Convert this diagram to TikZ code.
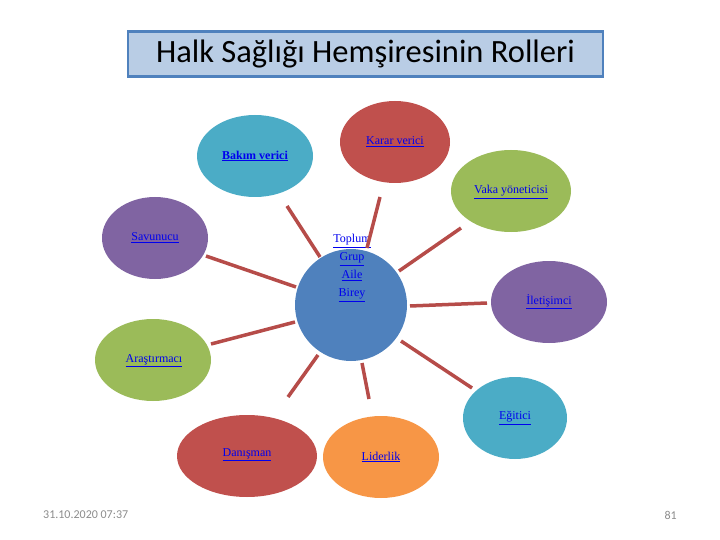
\documentclass[tikz,border=0pt]{standalone}
\usepackage{fontspec}
\setmainfont{Liberation Serif}
\newfontfamily\titlefont{Carlito}
\usetikzlibrary{shapes.geometric}
\definecolor{ttlfill}{HTML}{B9CDE5}
\definecolor{ttlline}{HTML}{4F81BD}
\definecolor{cblue}{HTML}{4BACC6}
\definecolor{cred}{HTML}{C0504D}
\definecolor{cgreen}{HTML}{9BBB59}
\definecolor{cpurple}{HTML}{8064A2}
\definecolor{ccenter}{HTML}{4F81BD}
\definecolor{corange}{HTML}{F79646}
\definecolor{linkblue}{HTML}{0000EE}
\definecolor{footgray}{HTML}{8C8C8C}
\newcommand{\lnk}[1]{\underline{#1}}
\begin{document}
\begin{tikzpicture}[x=1pt,y=-1pt,
  ell/.style={ellipse, draw=none, inner sep=0pt},
  lbl/.style={text=linkblue, font=\fontsize{12}{18}\selectfont, inner sep=0pt, align=center},
  conn/.style={draw=cred!95!black, line width=3.5pt}]
\useasboundingbox (0,0) rectangle (720,540);
% title
\node[draw=ttlline, line width=2.5pt, fill=ttlfill, minimum width=475, minimum height=45, inner sep=0pt,
  font=\titlefont\fontsize{32.5}{36}\selectfont] (title) at (365.5,54) {Halk Sağlığı Hemşiresinin Rolleri};
% ellipses
\node[ell, fill=cblue, minimum width=116, minimum height=82] (bakim) at (255,156) {};
\node[ell, fill=cred, minimum width=110, minimum height=82] (karar) at (395,142) {};
\node[ell, fill=cgreen, minimum width=120, minimum height=82] (vaka) at (511,191) {};
\node[ell, fill=cpurple, minimum width=116, minimum height=82] (ilet) at (549,302) {};
\node[ell, fill=cpurple, minimum width=106, minimum height=82] (savun) at (155,238) {};
\node[ell, fill=cgreen, minimum width=116, minimum height=82] (arast) at (153,360) {};
\node[ell, fill=cred, minimum width=140, minimum height=82] (danis) at (247,456) {};
\node[ell, fill=corange, minimum width=116, minimum height=82] (lider) at (381,457) {};
\node[ell, fill=cblue, minimum width=104, minimum height=82] (egit) at (515,418) {};
\node[circle, fill=ccenter, minimum size=112, inner sep=0pt] (cen) at (351,305) {};
% labels
\node[lbl, font=\bfseries\fontsize{12}{18}\selectfont] (tbakim) at (255,156) {\lnk{Bakım verici}};
\node[lbl] (tkarar) at (395,142) {\lnk{Karar verici}};
\node[lbl] (tvaka) at (511,192) {\lnk{Vaka yöneticisi}};
\node[lbl] (tilet) at (549,302) {\lnk{İletişimci}};
\node[lbl] (tsavun) at (155,238) {\lnk{Savunucu}};
\node[lbl] (tarast) at (154,361) {\lnk{Araştırmacı}};
\node[lbl] (tdanis) at (247,455) {\lnk{Danışman}};
\node[lbl] (tlider) at (381,457) {\lnk{Liderlik}};
\node[lbl] (tegit) at (515,418) {\lnk{Eğitici}};
\node[lbl] (tcen) at (352,268) {\lnk{Toplum}\\\lnk{Grup}\\\lnk{Aile}\\\lnk{Birey}};
% connector end points
\coordinate (b1) at (287,206); \coordinate (b2) at (320,257);
\coordinate (k1) at (380,197); \coordinate (k2) at (367,248);
\coordinate (v1) at (461,228); \coordinate (v2) at (399,271);
\coordinate (i1) at (487,303); \coordinate (i2) at (410,306);
\coordinate (s1) at (206,256); \coordinate (s2) at (296,287);
\coordinate (a1) at (211,344); \coordinate (a2) at (295,322);
\coordinate (d1) at (288,397); \coordinate (d2) at (318,355);
\coordinate (l1) at (369,399); \coordinate (l2) at (362,363);
\coordinate (e1) at (472,388); \coordinate (e2) at (401,341);
\draw[conn] (b1) -- (b2);
\draw[conn] (k1) -- (k2);
\draw[conn] (v1) -- (v2);
\draw[conn] (i1) -- (i2);
\draw[conn] (s1) -- (s2);
\draw[conn] (a1) -- (a2);
\draw[conn] (d1) -- (d2);
\draw[conn] (l1) -- (l2);
\draw[conn] (e1) -- (e2);
% footer
\node[text=footgray, font=\titlefont\fontsize{12}{14}\selectfont, anchor=west, inner sep=0pt] (date) at (43,515) {31.10.2020 07:37};
\node[text=footgray, font=\titlefont\fontsize{12}{14}\selectfont, anchor=east, inner sep=0pt] (page) at (677,515) {81};
\end{tikzpicture}
\end{document}
